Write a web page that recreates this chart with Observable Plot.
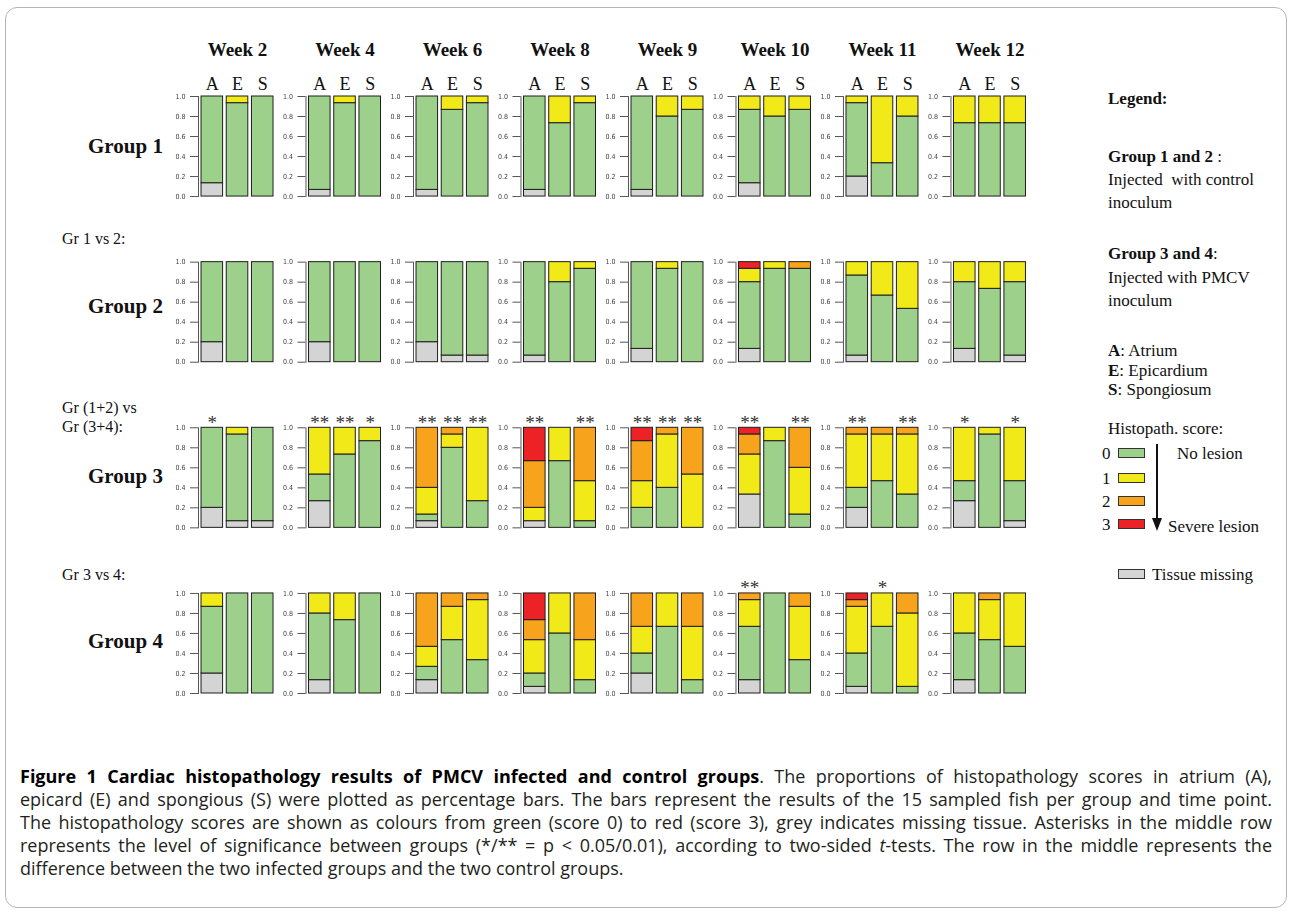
<!DOCTYPE html>
<html><head><meta charset="utf-8">
<script src="https://cdn.jsdelivr.net/npm/d3@7"></script>
<script src="https://cdn.jsdelivr.net/npm/@observablehq/plot@0.6"></script>
<style>
html,body{margin:0;padding:0;background:#fff}
body{width:1290px;height:912px;position:relative;overflow:hidden;font-family:"Liberation Serif","Times New Roman",serif;color:#111}
#border{position:absolute;left:5px;top:7px;width:1282px;height:901px;border:1px solid #b5b5b5;border-radius:12px;box-sizing:border-box;pointer-events:none}
#chart{position:absolute;left:0;top:0}
#chart svg g[aria-label="y-axis tick label"]{filter:grayscale(1)}
.t{position:absolute;white-space:nowrap;transform:translateY(-50%);line-height:1}
.g{font-weight:bold;font-size:21px}
.s{font-size:16px}
.lg{font-size:17px}
.sw{position:absolute;width:27px;height:10px;border:1px solid #333;box-sizing:border-box}
#caption{position:absolute;left:20px;top:765px;width:1252px;font-family:"Open Sans",sans-serif;font-size:18px;line-height:23px;color:#231f20}
#caption .ln{display:block;text-align:justify;text-align-last:justify}
#caption .ln.last{text-align-last:left}
</style></head>
<body>
<div id="chart"></div>
<div id="labels"></div>
<div id="caption"><span class="ln"><b style="color:#000">Figure 1 Cardiac histopathology results of PMCV infected and control groups</b>. The proportions of histopathology scores in atrium (A),</span><span class="ln">epicard (E) and spongious (S) were plotted as percentage bars. The bars represent the results of the 15 sampled fish per group and time point.</span><span class="ln">The histopathology scores are shown as colours from green (score 0) to red (score 3), grey indicates missing tissue. Asterisks in the middle row</span><span class="ln">represents the level of significance between groups (*/** = p &lt; 0.05/0.01), according to two-sided <i>t</i>-tests. The row in the middle represents the</span><span class="ln last">difference between the two infected groups and the two control groups.</span></div>
<div id="border"></div>
<script>
// ---- data (counts of 15 fish: [missing, score0, score1, score2, score3]) ----
const groups = ["Group 1", "Group 2", "Group 3", "Group 4"];
const weeks = ["Week 2", "Week 4", "Week 6", "Week 8", "Week 9", "Week 10", "Week 11", "Week 12"];
const tissues = ["A", "E", "S"];
const scores = ["missing", "0", "1", "2", "3"];
const scoreColors = ["#d4d4d4", "#9dd18b", "#f2e918", "#f7a31c", "#ec2227"];
const nFish = 15;

const group1 = [
  [[2,13,0,0,0],[0,14,1,0,0],[0,15,0,0,0]],
  [[1,14,0,0,0],[0,14,1,0,0],[0,15,0,0,0]],
  [[1,14,0,0,0],[0,13,2,0,0],[0,14,1,0,0]],
  [[1,14,0,0,0],[0,11,4,0,0],[0,14,1,0,0]],
  [[1,14,0,0,0],[0,12,3,0,0],[0,13,2,0,0]],
  [[2,11,2,0,0],[0,12,3,0,0],[0,13,2,0,0]],
  [[3,11,1,0,0],[0,5,10,0,0],[0,12,3,0,0]],
  [[0,11,4,0,0],[0,11,4,0,0],[0,11,4,0,0]]
];
const group2 = [
  [[3,12,0,0,0],[0,15,0,0,0],[0,15,0,0,0]],
  [[3,12,0,0,0],[0,15,0,0,0],[0,15,0,0,0]],
  [[3,12,0,0,0],[1,14,0,0,0],[1,14,0,0,0]],
  [[1,14,0,0,0],[0,12,3,0,0],[0,14,1,0,0]],
  [[2,13,0,0,0],[0,14,1,0,0],[0,15,0,0,0]],
  [[2,10,2,0,1],[0,14,1,0,0],[0,14,0,1,0]],
  [[1,12,2,0,0],[0,10,5,0,0],[0,8,7,0,0]],
  [[2,10,3,0,0],[0,11,4,0,0],[1,11,3,0,0]]
];
const group3 = [
  [[3,12,0,0,0],[1,13,1,0,0],[1,14,0,0,0]],
  [[4,4,7,0,0],[0,11,4,0,0],[0,13,2,0,0]],
  [[1,1,4,9,0],[0,12,2,1,0],[0,4,11,0,0]],
  [[1,0,2,7,5],[0,10,5,0,0],[0,1,6,8,0]],
  [[0,3,4,6,2],[0,6,8,1,0],[0,0,8,7,0]],
  [[5,0,6,3,1],[0,13,2,0,0],[0,2,7,6,0]],
  [[3,3,8,1,0],[0,7,7,1,0],[0,5,9,1,0]],
  [[4,3,8,0,0],[0,14,1,0,0],[1,6,8,0,0]]
];
const group4 = [
  [[3,10,2,0,0],[0,15,0,0,0],[0,15,0,0,0]],
  [[2,10,3,0,0],[0,11,4,0,0],[0,15,0,0,0]],
  [[2,2,3,8,0],[0,8,5,2,0],[0,5,9,1,0]],
  [[1,2,5,3,4],[0,9,6,0,0],[0,2,6,7,0]],
  [[3,3,4,5,0],[0,10,5,0,0],[0,2,8,5,0]],
  [[2,8,4,1,0],[0,15,0,0,0],[0,5,8,2,0]],
  [[1,5,7,1,1],[0,10,5,0,0],[0,1,11,3,0]],
  [[2,7,6,0,0],[0,8,6,1,0],[0,7,8,0,0]]
];
// significance: Gr(1+2) vs Gr(3+4) and Gr 3 vs 4
const sigMiddle = [
  ["Week 2","A","*"],
  ["Week 4","A","**"],["Week 4","E","**"],["Week 4","S","*"],
  ["Week 6","A","**"],["Week 6","E","**"],["Week 6","S","**"],
  ["Week 8","A","**"],["Week 8","S","**"],
  ["Week 9","A","**"],["Week 9","E","**"],["Week 9","S","**"],
  ["Week 10","A","**"],["Week 10","S","**"],
  ["Week 11","A","**"],["Week 11","S","**"],
  ["Week 12","A","*"],["Week 12","S","*"]
];
const sig34 = [["Week 10","A","**"],["Week 11","E","*"]];
const yTicks = [0, 0.2, 0.4, 0.6, 0.8, 1.0];

// ---- build table ----
const allGroups = [group1, group2, group3, group4];
const rows = [];
allGroups.forEach((g, gi) => g.forEach((wk, wi) => wk.forEach((counts, ti) => counts.forEach((c, si) => {
  if (c > 0) rows.push({group: groups[gi], week: weeks[wi], tissue: tissues[ti], score: scores[si], value: c / nFish});
}))));

const serif = "Liberation Serif, Times New Roman, serif";
const plot = Plot.plot({
  width: 1060, height: 706,
  marginLeft: 198, marginRight: 31.5, marginTop: 96, marginBottom: 13,
  style: {background: "transparent", overflow: "visible"},
  fx: {domain: weeks, paddingInner: 0.274, paddingOuter: 0, round: false, axis: null},
  fy: {domain: groups, paddingInner: 0.396, paddingOuter: 0, round: false, axis: null},
  x: {domain: tissues, paddingInner: 0.145, paddingOuter: 0.12, round: false, axis: null},
  y: {domain: [0, 1], axis: null},
  color: {domain: scores, range: scoreColors},
  marks: [
    Plot.barY(rows, {fx: "week", fy: "group", x: "tissue", y: "value", fill: "score", stroke: "#1e1e1e", strokeWidth: 1, insetLeft: 0, insetRight: 0}),
    Plot.frame({anchor: "left", stroke: "#555"}),
    Plot.axisY({facetAnchor: null, label: null, ticks: yTicks, tickFormat: d3.format(".1f"), tickSize: 8, tickPadding: 5, fontSize: 7, stroke: "#555", fill: "#444", fontFamily: "Liberation Sans Narrow, DejaVu Sans Condensed, sans-serif"}),
    Plot.text(weeks, {fx: d => d, fy: () => "Group 1", text: d => d, frameAnchor: "top", dy: -54, fontSize: 19, fontWeight: "bold", fontFamily: serif, fill: "#111"}),
    Plot.text(tissues, {x: d => d, fy: () => "Group 1", text: d => d, frameAnchor: "top", dy: -19, fontSize: 18, fontFamily: serif, fill: "#111"}),
    Plot.text(sigMiddle, {fx: d => d[0], x: d => d[1], text: d => d[2], fy: () => "Group 3", frameAnchor: "top", dy: -12, fontSize: 19, fontFamily: serif, fill: "#333"}),
    Plot.text(sig34, {fx: d => d[0], x: d => d[1], text: d => d[2], fy: () => "Group 4", frameAnchor: "top", dy: -13, fontSize: 19, fontFamily: serif, fill: "#333"})
  ]
});
document.getElementById("chart").appendChild(plot);

// ---- left labels & legend ----
const leftLabels = [
  ["Group 1", 88, 146, "g"], ["Gr 1 vs 2:", 62, 239, "s"], ["Group 2", 88, 306, "g"],
  ["Gr (1+2) vs", 62, 408, "s"], ["Gr (3+4):", 62, 427, "s"], ["Group 3", 88, 476, "g"],
  ["Gr 3 vs 4:", 62, 575, "s"], ["Group 4", 88, 641, "g"]
];
const legendLines = [
  ["<b>Legend:</b>", 1108, 98], ["<b>Group 1 and 2</b> :", 1108, 156], ["Injected&nbsp; with control", 1108, 179],
  ["inoculum", 1108, 202], ["<b>Group 3 and 4</b>:", 1108, 253], ["Injected with PMCV", 1108, 277], ["inoculum", 1108, 300],
  ["<b>A</b>: Atrium", 1108, 350], ["<b>E</b>: Epicardium", 1108, 370], ["<b>S</b>: Spongiosum", 1108, 389],
  ["Histopath. score:", 1108, 428], ["0", 1102, 453], ["1", 1102, 478], ["2", 1102, 501], ["3", 1102, 524],
  ["No lesion", 1177, 453], ["Severe lesion", 1168, 526], ["Tissue missing", 1152, 574]
];
const swatches = [[scoreColors[1], 1118, 448], [scoreColors[2], 1118, 473], [scoreColors[3], 1118, 496], [scoreColors[4], 1118, 519], [scoreColors[0], 1118, 569]];
let html = "";
leftLabels.forEach(([t, x, y, c]) => html += `<div class="t ${c}" style="left:${x}px;top:${y}px">${t}</div>`);
legendLines.forEach(([t, x, y]) => html += `<div class="t lg" style="left:${x}px;top:${y}px">${t}</div>`);
swatches.forEach(([c, x, y]) => html += `<div class="sw" style="left:${x}px;top:${y}px;background:${c}"></div>`);
html += `<svg style="position:absolute;left:1150px;top:442px" width="16" height="92"><line x1="7" y1="2" x2="7" y2="78" stroke="#111" stroke-width="2"/><path d="M2,76 L12,76 L7,89 Z" fill="#111"/></svg>`;
document.getElementById("labels").innerHTML = html;
</script>
</body></html>
